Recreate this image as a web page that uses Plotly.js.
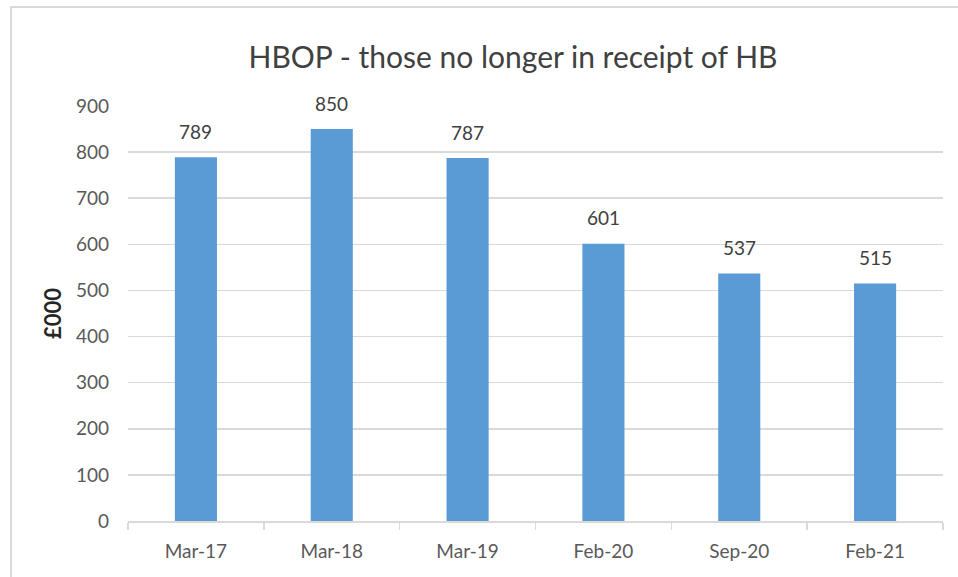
<!DOCTYPE html>
<html>
<head>
<meta charset="utf-8">
<script src="https://cdn.plot.ly/plotly-3.0.1.min.js"></script>
<style>
html,body{margin:0;padding:0;background:#fff;overflow:hidden;}
#chart{width:958px;height:577px;}
#frame{position:absolute;left:10px;top:6px;width:1000px;height:1000px;border:2px solid #d9d9d9;pointer-events:none;}
</style>
</head>
<body>
<div id="chart"></div>
<div id="frame"></div>
<script>
const categories = ["Mar-17", "Mar-18", "Mar-19", "Feb-20", "Sep-20", "Feb-21"];
const values = [789, 850, 787, 601, 537, 515];
const yTicks = [0, 100, 200, 300, 400, 500, 600, 700, 800, 900];

const font = "Lato, 'Open Sans', sans-serif";

const trace = {
  type: "bar",
  x: categories,
  y: values,
  marker: {color: "#5B9BD5"},
  hoverinfo: "x+y"
};

const annotations = categories.map((c, i) => ({
  x: c, y: values[i], xref: "x", yref: "y",
  text: String(values[i]),
  showarrow: false,
  yanchor: "middle",
  yshift: 26,
  font: {family: font, size: 19, color: "#404040"}
}));

const layout = {
  width: 958, height: 577,
  margin: {l: 128, r: 15, t: 106, b: 56},
  paper_bgcolor: "#fff",
  plot_bgcolor: "#fff",
  bargap: 0.69,
  showlegend: false,
  title: {
    text: "HBOP - those no longer in receipt of HB",
    x: 513/958, xanchor: "center", xref: "container",
    y: 1 - 57/577, yanchor: "middle", yref: "container",
    font: {family: font, size: 30, color: "#404040"}
  },
  xaxis: {
    type: "category",
    tickfont: {family: font, size: 19, color: "#595959"},
    showgrid: false,
    showline: true, linecolor: "#d9d9d9", linewidth: 1.5,
    ticks: "outside", tickson: "boundaries", ticklen: 7, tickcolor: "#d9d9d9", tickwidth: 1.5,
    ticklabelstandoff: 13,
    fixedrange: true
  },
  yaxis: {
    range: [0, 900],
    tickvals: yTicks,
    ticktext: yTicks.map(String),
    tickfont: {family: font, size: 19, color: "#595959"},
    showgrid: true, gridcolor: "#d9d9d9", gridwidth: 1.5,
    zeroline: false, showline: false,
    ticklabelstandoff: 18,
    title: {text: "<b>£000</b>", font: {family: font, size: 22, color: "#262626"}, standoff: 8},
    fixedrange: true
  },
  annotations: annotations
};

Plotly.newPlot("chart", [trace], layout, {displayModeBar: false, staticPlot: true});
</script>
</body>
</html>
